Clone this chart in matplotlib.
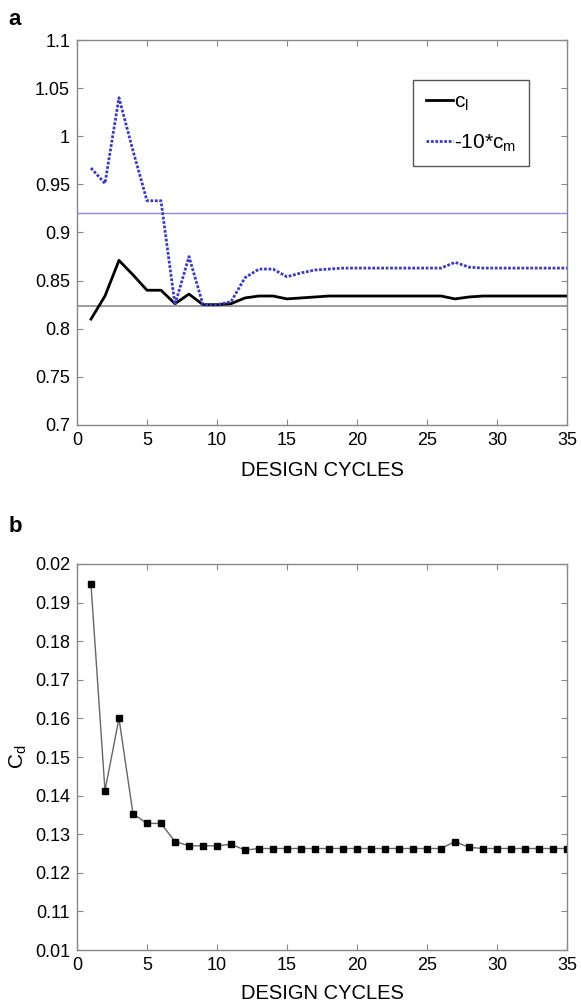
import numpy as np
import matplotlib
matplotlib.use("Agg")
import matplotlib.pyplot as plt

plt.rcParams['font.family'] = ['Liberation Sans', 'DejaVu Sans']
plt.rcParams['font.size'] = 13

cycles = np.arange(1, 36)

# lift coefficient (solid black)
cl = [0.810, 0.834, 0.871, 0.856, 0.840, 0.840, 0.826, 0.836, 0.825, 0.825,
      0.826, 0.832, 0.834, 0.834, 0.831, 0.832, 0.833, 0.834, 0.834, 0.834,
      0.834, 0.834, 0.834, 0.834, 0.834, 0.834, 0.831, 0.833, 0.834, 0.834,
      0.834, 0.834, 0.834, 0.834, 0.834]

# -10*cm (blue dotted)
cm10 = [0.967, 0.951, 1.040, 0.985, 0.933, 0.933, 0.825, 0.875, 0.825, 0.825,
        0.828, 0.853, 0.862, 0.862, 0.854, 0.858, 0.861, 0.862, 0.863, 0.863,
        0.863, 0.863, 0.863, 0.863, 0.863, 0.863, 0.869, 0.864, 0.863, 0.863,
        0.863, 0.863, 0.863, 0.863, 0.863]

cl_target = 0.824
cm_target = 0.92

# drag coefficient
cd = [0.1947, 0.1413, 0.1600, 0.1353, 0.1328, 0.1328, 0.1281, 0.1270, 0.1270, 0.1270,
      0.1274, 0.1259, 0.1263, 0.1263, 0.1263, 0.1263, 0.1263, 0.1263, 0.1263, 0.1263,
      0.1263, 0.1263, 0.1263, 0.1263, 0.1263, 0.1263, 0.1281, 0.1266, 0.1263, 0.1263,
      0.1263, 0.1263, 0.1263, 0.1263, 0.1263]

cd_ticks = np.round(np.arange(0.10, 0.2001, 0.01), 2)
cd_ticklabels = ['0.01', '0.11', '0.12', '0.13', '0.14', '0.15', '0.16', '0.17', '0.18', '0.19', '0.02']

fig = plt.figure(figsize=(5.81, 10.08), dpi=100)
ax1 = fig.add_axes([0.1325, 0.5784, 0.8434, 0.3819])
ax2 = fig.add_axes([0.1325, 0.0575, 0.8434, 0.383])


def style(ax):
    for s in ax.spines.values():
        s.set_color('#888888')
        s.set_linewidth(1.0)
    ax.tick_params(direction='in', top=True, right=True, length=4, color='#888888',
                   labelcolor='black', pad=5)
    ax.set_xlim(0, 35)
    ax.set_xticks(range(0, 36, 5))


# panel a
ax1.axhline(cm_target, color='#8c8ce6', lw=1.0)
ax1.axhline(cl_target, color='#8a8a8a', lw=1.2)
ax1.plot(cycles, cl, color='black', lw=2, label='c$_\\mathregular{l}$')
ax1.plot(cycles, cm10, color='#3b3bc0', lw=2, ls=(0, (1, 0.6)), label='-10*c$_\\mathregular{m}$')
ax1.set_ylim(0.7, 1.1)
ax1.set_yticks(np.arange(0.7, 1.1001, 0.05))
ax1.set_yticklabels(['0.7', '0.75', '0.8', '0.85', '0.9', '0.95', '1', '1.05', '1.1'])
style(ax1)
ax1.set_xlabel('DESIGN CYCLES', labelpad=9, fontsize=14.5)
leg = ax1.legend(loc='upper right', bbox_to_anchor=(0.922, 0.896), borderaxespad=0,
                 fancybox=False, framealpha=1, edgecolor='#555555', handlelength=1.3,
                 handletextpad=0.05, borderpad=0.6, labelspacing=0.9, fontsize=15)
leg.get_frame().set_linewidth(1.0)

# panel b
ax2.plot(cycles, cd, color='#666666', lw=1.0, marker='s', markersize=4,
         markerfacecolor='black', markeredgecolor='black')
ax2.set_ylim(0.10, 0.20)
ax2.set_yticks(cd_ticks)
ax2.set_yticklabels(cd_ticklabels)
style(ax2)
ax2.set_xlabel('DESIGN CYCLES', labelpad=7, fontsize=14.5)
ax2.set_ylabel('C$_\\mathregular{d}$', labelpad=4, fontsize=15)

fig.text(0.015, 0.975, 'a', fontsize=16, fontweight='bold')
fig.text(0.015, 0.472, 'b', fontsize=16, fontweight='bold')

fig.savefig('out.png', dpi=100)
